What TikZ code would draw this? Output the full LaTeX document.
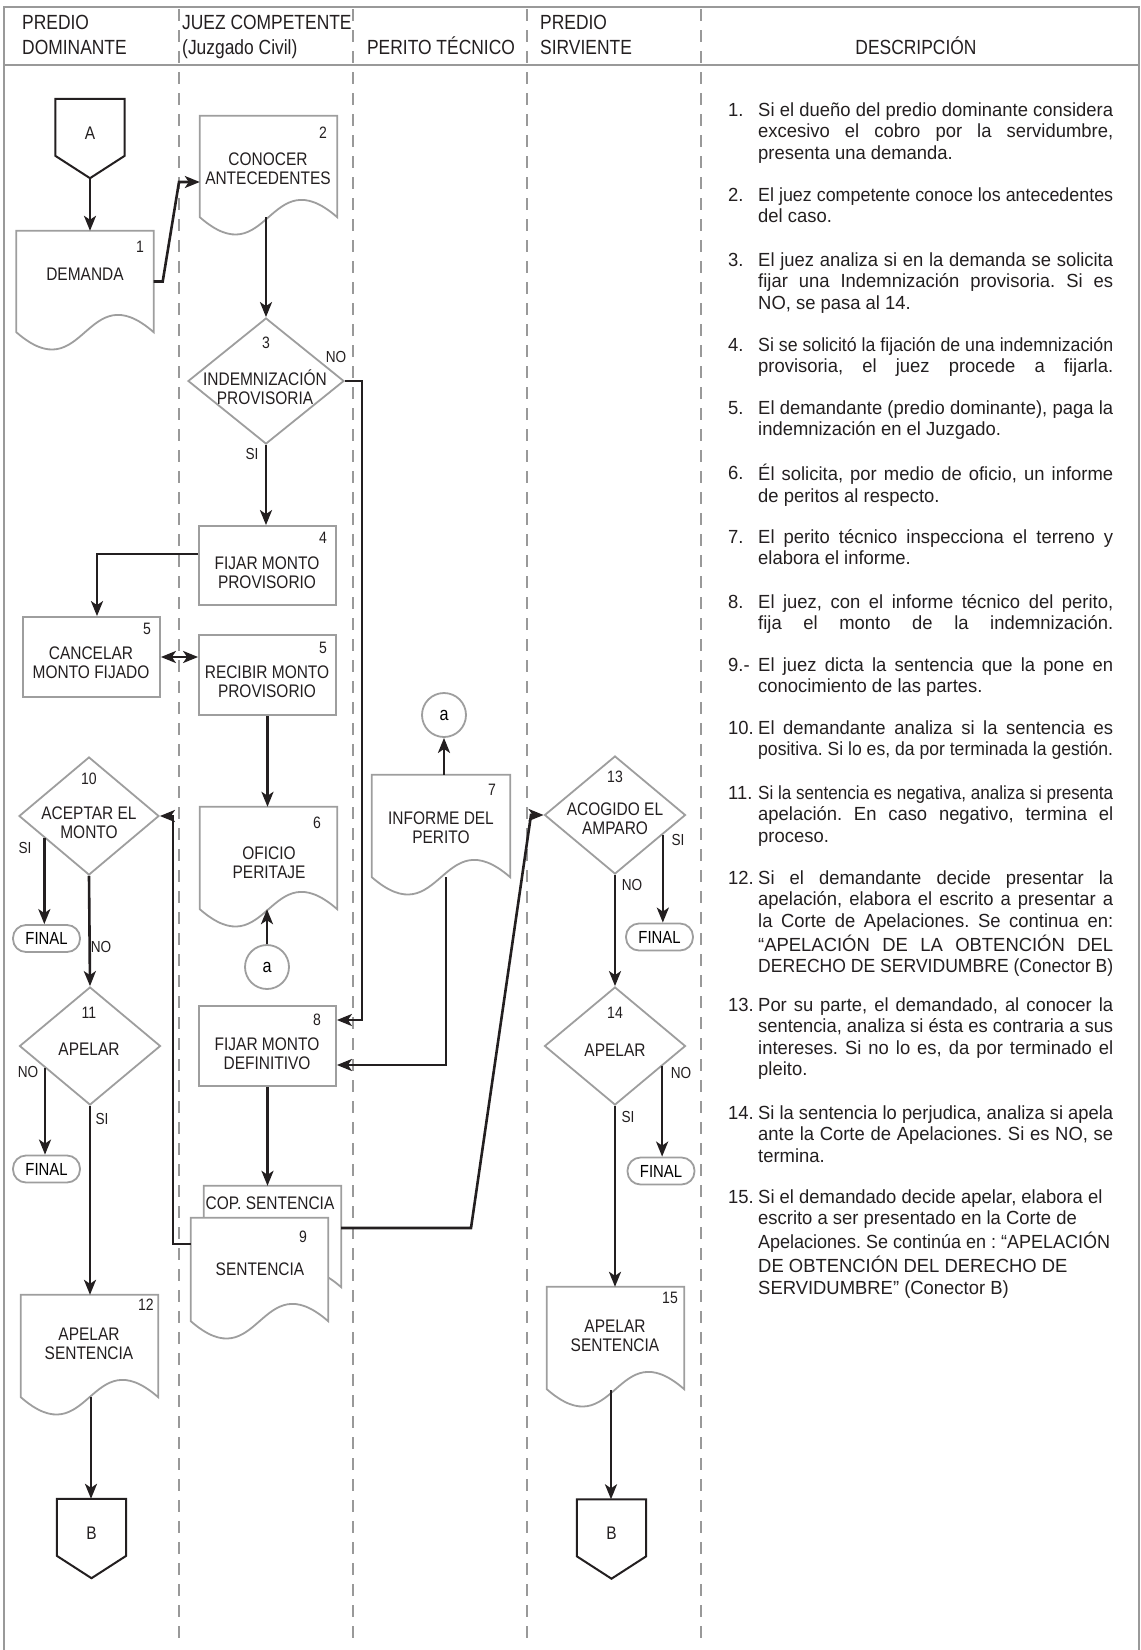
\documentclass[tikz,border=0pt]{standalone}
\usepackage{fontspec}
\setmainfont{Liberation Sans}[FakeStretch=0.85]
\newfontfamily\descfont{Liberation Sans}[FakeStretch=0.97]
\usetikzlibrary{arrows.meta,shapes.geometric,calc}
\definecolor{sg}{gray}{0.62}
\definecolor{fg}{gray}{0.6}
\definecolor{ink}{HTML}{231F20}
\newcommand\jl[1]{\setbox0\hbox{#1}\ifdim\wd0>355pt\hbox{\strut\resizebox{355pt}{\height}{#1}}\else\hbox to 355pt{\strut#1}\fi}
\newcommand\rl[1]{\setbox0\hbox{#1}\ifdim\wd0>352pt\hbox{\strut\resizebox{352pt}{\height}{#1}}\else\hbox{\strut#1}\fi}
\newcommand\docoutline[1]{\draw[shp] (#1.north west) -- (#1.north east) -- (#1.south east) .. controls ($(#1.south)+(0,-60)$) and ($(#1.south)+(0,60)$) .. (#1.south west) -- cycle;}
\newcommand\pentoutline[1]{\draw[pent] (#1.north west) -- (#1.north east) -- ($(#1.north east)+(0,57)$) -- (#1.south) -- ($(#1.north west)+(0,57)$) -- cycle;}
\tikzset{
  shp/.style={draw=sg, line width=1.8pt, fill=white},
  pent/.style={draw=ink, line width=2pt, fill=white},
  boxn/.style={shp, rectangle, minimum width=137pt, minimum height=80pt, inner sep=0pt},
  docn/.style={rectangle, inner sep=0pt, minimum width=137pt, minimum height=101pt},
  pentn/.style={rectangle, inner sep=0pt, minimum width=69pt, minimum height=79pt},
  dian/.style={shp, diamond, minimum width=141pt, minimum height=118pt, inner sep=0pt},
  finn/.style={shp, rectangle, rounded corners=13pt, minimum width=67pt, minimum height=27pt, inner sep=0pt, font=\fontsize{17.5}{19}\selectfont},
  circn/.style={shp, circle, minimum size=44pt, inner sep=0pt, font=\fontsize{19}{20}\selectfont},
  lbl/.style={font=\fontsize{18.2}{19}\selectfont, inner sep=0pt, align=center, text=ink},
  num/.style={font=\fontsize{16.5}{18}\selectfont, inner sep=0pt, text=ink},
  yn/.style={font=\fontsize{16}{17}\selectfont, inner sep=0pt, text=ink},
  hd/.style={font=\fontsize{20.5}{22}\selectfont, inner sep=0pt, text=ink},
  desc/.style={font=\descfont\fontsize{19}{21.5}\selectfont\frenchspacing, inner sep=0pt, align=left, anchor=north west, text=ink},
  con/.style={line width=2.6pt, draw=ink},
  arr/.style={con, -{Stealth[length=15pt,width=12pt,inset=4pt]}},
  dbl/.style={con, {Stealth[length=15pt,width=12pt,inset=4pt]}-{Stealth[length=15pt,width=12pt,inset=4pt]}},
  frame/.style={draw=fg, line width=2.5pt},
  div/.style={draw=fg, line width=2pt, dash pattern=on 12pt off 9pt},
}
\begin{document}
\begin{tikzpicture}[x=1pt,y=-1pt]
\useasboundingbox (0,0) rectangle (1141,1650);
% frame
\draw[frame] (4,1650) -- (4,7) -- (1139,7) -- (1139,1650);
\draw[frame] (4,65) -- (1139,65);
\foreach \xx in {179,353,527,701} \draw[div] (\xx,9) -- (\xx,1642);
% headers
\node[hd, anchor=base west] (h1a) at (22,29) {PREDIO};
\node[hd, anchor=base west] (h1b) at (22,54) {DOMINANTE};
\node[hd, anchor=base west] (h2a) at (182,29) {JUEZ COMPETENTE};
\node[hd, anchor=base west] (h2b) at (182,54) {(Juzgado Civil)};
\node[hd, anchor=base] (h3) at (441,54) {PERITO TÉCNICO};
\node[hd, anchor=base west] (h4a) at (540,29) {PREDIO};
\node[hd, anchor=base west] (h4b) at (540,54) {SIRVIENTE};
\node[hd, anchor=base] (h5) at (916,54) {DESCRIPCIÓN};

% ---------- shapes ----------
% connector A
\node[pentn] (A) at (90,138.5) {};
\pentoutline{A}
\node[lbl] (At) at (90,133) {A};
% 1 DEMANDA
\node[docn] (d1) at (85,281.5) {};
\docoutline{d1}
\node[lbl] (d1t) at (85,274) {DEMANDA};
\node[num] (d1n) at (140,247) {1};
% 2 CONOCER
\node[docn] (d2) at (268.5,166.5) {};
\docoutline{d2}
\node[lbl] (d2t) at (268,169) {CONOCER\\ANTECEDENTES};
\node[num] (d2n) at (323,133) {2};
% 3 diamond
\node[dian, minimum width=156pt, minimum height=126pt] (g3) at (266,381) {};
\node[num] (g3n) at (266,343) {3};
\node[lbl] (g3t) at (265,387.5) {INDEMNIZACIÓN\\PROVISORIA};
\node[yn] (g3no) at (336,357) {NO};
\node[yn] (g3si) at (252,454) {SI};
% 4
\node[boxn, minimum height=79pt] (b4) at (267.5,565.5) {};
\node[lbl] (b4t) at (267,572.5) {FIJAR MONTO\\PROVISORIO};
\node[num] (b4n) at (323,538) {4};
% 5 cancelar
\node[boxn] (b5a) at (91.5,657) {};
\node[lbl] (b5at) at (91,663) {CANCELAR\\MONTO FIJADO};
\node[num] (b5an) at (147,629) {5};
% 5 recibir
\node[boxn] (b5b) at (267.5,675) {};
\node[lbl] (b5bt) at (267,682) {RECIBIR MONTO\\PROVISORIO};
\node[num] (b5bn) at (323,648) {5};
% 6 oficio
\node[docn, minimum height=102pt] (d6) at (268.5,858) {};
\docoutline{d6}
\node[lbl] (d6t) at (269,862.5) {OFICIO\\PERITAJE};
\node[num] (d6n) at (317,823) {6};
% a circles
\node[circn] (ca1) at (267,967) {a};
\node[circn] (ca2) at (444,715) {a};
% 7 informe
\node[docn, minimum width=138pt, minimum height=102pt] (d7) at (441,826) {};
\docoutline{d7}
\node[lbl] (d7t) at (441,827.5) {INFORME DEL\\PERITO};
\node[num] (d7n) at (492,790) {7};
% 8
\node[boxn] (b8) at (267.5,1046) {};
\node[lbl] (b8t) at (267,1054) {FIJAR MONTO\\DEFINITIVO};
\node[num] (b8n) at (317,1020) {8};
% 9 sentencia (two pages)
\node[docn] (d9b) at (272.5,1236.5) {};
\docoutline{d9b}
\node[lbl] (d9bt) at (270,1203) {COP. SENTENCIA};
\node[docn, minimum height=103pt] (d9) at (259.5,1269.5) {};
\docoutline{d9}
\node[lbl] (d9t) at (260,1269) {SENTENCIA};
\node[num] (d9n) at (303,1237) {9};
% 10
\node[dian, minimum width=140pt] (g10) at (89,816) {};
\node[num] (g10n) at (89,779) {10};
\node[lbl] (g10t) at (89,822.5) {ACEPTAR EL\\MONTO};
\node[yn] (g10si) at (25,848) {SI};
\node[yn] (g10no) at (101,947) {NO};
\node[finn] (f1) at (46.5,938.5) {FINAL};
% 11
\node[dian] (g11) at (90,1046) {};
\node[num] (g11n) at (89,1013) {11};
\node[lbl] (g11t) at (89,1049) {APELAR};
\node[yn] (g11no) at (28,1072) {NO};
\node[yn] (g11si) at (102,1119) {SI};
\node[finn] (f2) at (46.5,1169) {FINAL};
% 12
\node[docn, minimum height=102pt] (d12) at (89.5,1346) {};
\docoutline{d12}
\node[lbl] (d12t) at (89,1344) {APELAR\\SENTENCIA};
\node[num] (d12n) at (146,1305) {12};
% B left
\node[pentn] (B1) at (91.5,1538.5) {};
\pentoutline{B1}
\node[lbl] (B1t) at (91.5,1533) {B};
% 13
\node[dian] (g13) at (615,815) {};
\node[num] (g13n) at (615,777) {13};
\node[lbl] (g13t) at (615,819) {ACOGIDO EL\\AMPARO};
\node[yn] (g13si) at (678,840) {SI};
\node[yn] (g13no) at (632,885) {NO};
\node[finn] (f3) at (659.5,937) {FINAL};
% 14
\node[dian] (g14) at (615,1046) {};
\node[num] (g14n) at (615,1013) {14};
\node[lbl] (g14t) at (615,1050) {APELAR};
\node[yn] (g14no) at (681,1073) {NO};
\node[yn] (g14si) at (628,1117) {SI};
\node[finn] (f4) at (661,1171) {FINAL};
% 15
\node[docn, minimum height=102pt] (d15) at (615.5,1338) {};
\docoutline{d15}
\node[lbl] (d15t) at (615,1336) {APELAR\\SENTENCIA};
\node[num] (d15n) at (670,1298) {15};
% B right
\node[pentn] (B2) at (611.5,1539) {};
\pentoutline{B2}
\node[lbl] (B2t) at (611.5,1533) {B};

% ---------- connectors ----------
\draw[arr] (A.south) -- (A.south |- d1.north);
\coordinate (k1) at (179,182);
\draw[arr] (d1.east) -- ++(9,0) -- (k1) -- (k1 -| d2.west);
\draw[arr] (g3.north |- d2.south) -- (g3.north);
\draw[arr] (g3.south) -- (g3.south |- b4.north);
\coordinate (k2) at (97,554);
\draw[arr] (b4.west |- k2) -- (k2) -- (k2 |- b5a.north);
\draw[dbl] (b5a.east) -- (b5a.east -| b5b.west);
\draw[arr] (b5b.south) -- (b5b.south |- d6.north);
\draw[arr] (ca1.north) -- (ca1.north |- d6.south);
\draw[arr] (ca2.south |- d7.north) -- (ca2.south);
\coordinate (k3) at (362,381);
\draw[arr] (g3.east) -- (k3) -- (k3 |- 0,1020) -- (b8.east |- 0,1020);
\coordinate (k4) at (446,1065);
\draw[arr] (k4 |- d7.south) -- (k4) -- (k4 -| b8.east);
\draw[arr] (b8.south) -- (b8.south |- d9b.north);
\coordinate (k5) at (471,1228);
\coordinate (k6) at (531,815);
\draw[arr] (d9b.east |- k5) -- (k5) -- (k6) -- (g13.west);
\coordinate (k7) at (173,1244);
\draw[arr] (d9.west |- k7) -- (k7) -- (k7 |- g10.east) -- (g10.east);
\coordinate (p10) at ($(g10.west)!0.37!(g10.south)$);
\draw[arr] (p10) -- (p10 |- f1.north);
\draw[arr] (g10.south) -- (g11.north);
\coordinate (p11) at ($(g11.west)!0.37!(g11.south)$);
\draw[arr] (p11) -- (p11 |- f2.north);
\draw[arr] (g11.south) -- (g11.south |- d12.north);
\coordinate (q12) at (91,1397);
\draw[arr] (q12) -- (q12 |- B1.north);
\coordinate (p13) at ($(g13.east)!0.33!(g13.south)$);
\draw[arr] (p13) -- (p13 |- f3.north);
\draw[arr] (g13.south) -- (g14.north);
\coordinate (p14) at ($(g14.east)!0.34!(g14.south)$);
\draw[arr] (p14) -- (p14 |- f4.north);
\draw[arr] (g14.south) -- (g14.south |- d15.north);
\coordinate (q15) at (611,1390);
\draw[arr] (q15) -- (q15 |- B2.north);

% ---------- descriptions ----------
\node[desc] (n1) at (728,101) {\strut 1.};
\node[desc] (t1) at (758,101) {\jl{Si el dueño del predio dominante considera}\\\jl{excesivo el cobro por la servidumbre,}\\presenta una demanda.};
\node[desc] (n2) at (728,186) {\strut 2.};
\node[desc] (t2) at (758,186) {\jl{El juez competente conoce los antecedentes}\\del caso.};
\node[desc] (n3) at (728,251) {\strut 3.};
\node[desc] (t3) at (758,251) {\jl{El juez analiza si en la demanda se solicita}\\\jl{fijar una Indemnización provisoria. Si es}\\NO, se pasa al 14.};
\node[desc] (n4) at (728,336) {\strut 4.};
\node[desc] (t4) at (758,336) {\jl{Si se solicitó la fijación de una indemnización}\\\jl{provisoria, el juez procede a fijarla.}};
\node[desc] (n5) at (728,399) {\strut 5.};
\node[desc] (t5) at (758,399) {\jl{El demandante (predio dominante), paga la}\\indemnización en el Juzgado.};
\node[desc] (n6) at (728,464) {\strut 6.};
\node[desc] (t6) at (758,464) {\jl{Él solicita, por medio de oficio, un informe}\\de peritos al respecto.};
\node[desc] (n7) at (728,528) {\strut 7.};
\node[desc] (t7) at (758,528) {\jl{El perito técnico inspecciona el terreno y}\\elabora el informe.};
\node[desc] (n8) at (728,593) {\strut 8.};
\node[desc] (t8) at (758,593) {\jl{El juez, con el informe técnico del perito,}\\\jl{fija el monto de la indemnización.}};
\node[desc] (n9) at (728,656) {\strut 9.-};
\node[desc] (t9) at (758,656) {\jl{El juez dicta la sentencia que la pone en}\\conocimiento de las partes.};
\node[desc] (n10) at (728,719) {\strut 10.};
\node[desc] (t10) at (758,719) {\jl{El demandante analiza si la sentencia es}\\\jl{positiva. Si lo es, da por terminada la gestión.}};
\node[desc] (n11) at (728,784) {\strut 11.};
\node[desc] (t11) at (758,784) {\jl{Si la sentencia es negativa, analiza si presenta}\\\jl{apelación. En caso negativo, termina el}\\proceso.};
\node[desc] (n12) at (728,869) {\strut 12.};
\node[desc] (t12) at (758,869) {\jl{Si el demandante decide presentar la}\\\jl{apelación, elabora el escrito a presentar a}\\\jl{la Corte de Apelaciones. Se continua en:}\\\jl{“APELACIÓN DE LA OBTENCIÓN DEL}\\\jl{DERECHO DE SERVIDUMBRE (Conector B)}};
\node[desc] (n13) at (728,996) {\strut 13.};
\node[desc] (t13) at (758,996) {\jl{Por su parte, el demandado, al conocer la}\\\jl{sentencia, analiza si ésta es contraria a sus}\\\jl{intereses. Si no lo es, da por terminado el}\\pleito.};
\node[desc] (n14) at (728,1104) {\strut 14.};
\node[desc] (t14) at (758,1104) {\jl{Si la sentencia lo perjudica, analiza si apela}\\\jl{ante la Corte de Apelaciones. Si es NO, se}\\termina.};
\node[desc] (n15) at (728,1188) {\strut 15.};
\node[desc] (t15) at (758,1188) {\rl{Si el demandado decide apelar, elabora el}\\\rl{escrito a ser presentado en la Corte de}\\\rl{Apelaciones. Se continúa en : “APELACIÓN}\\\rl{DE OBTENCIÓN DEL DERECHO DE}\\\rl{SERVIDUMBRE” (Conector B)}};
\end{tikzpicture}
\end{document}
